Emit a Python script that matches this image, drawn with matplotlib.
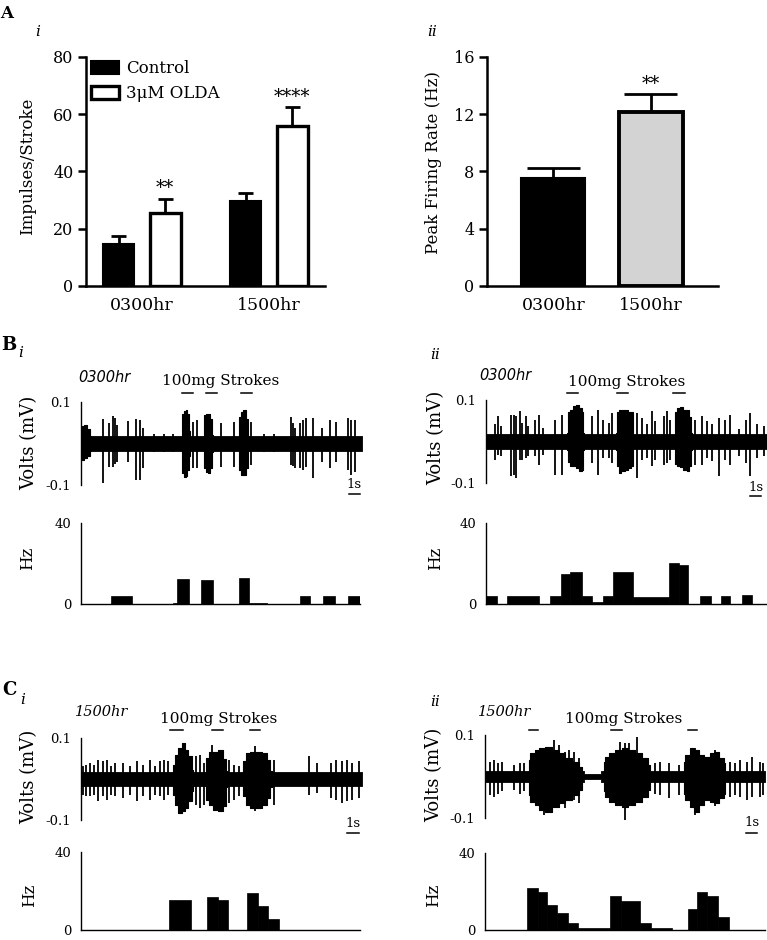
import matplotlib
matplotlib.use('Agg')
import matplotlib.pyplot as plt
import numpy as np

plt.rcParams['font.family'] = ['DejaVu Serif']

# ---------------- Panel A data ----------------
groups = ['0300hr', '1500hr']
control_mean = [14.7, 29.6]
control_sem = [2.8, 3.0]
olda_mean = [25.5, 55.8]
olda_sem = [5.0, 6.6]
olda_sig = ['**', '****']

peak_groups = ['0300hr', '1500hr']
peak_mean = [7.55, 12.15]
peak_sem = [0.7, 1.25]
peak_sig = ['', '**']

# ---------------- Panel B i (0300hr, control) ----------------
bi_band_t = [0, 25]
bi_band_hw = [0.017, 0.017]
bi_burst_t = [[0.0, 0.1, 0.4, 0.7, 0.85],
              [8.95, 9.05, 9.2, 9.4, 9.55, 9.7],
              [10.9, 11.0, 11.2, 11.4, 11.6, 11.75],
              [14.05, 14.15, 14.35, 14.55, 14.75, 14.9]]
bi_burst_up = [[0.04, 0.042, 0.045, 0.035, 0.017],
               [0.02, 0.07, 0.078, 0.081, 0.07, 0.03],
               [0.02, 0.068, 0.072, 0.07, 0.06, 0.02],
               [0.02, 0.065, 0.075, 0.081, 0.06, 0.02]]
bi_burst_down = [[-0.03, -0.04, -0.035, -0.03, -0.017],
                 [-0.02, -0.07, -0.08, -0.078, -0.065, -0.03],
                 [-0.02, -0.06, -0.068, -0.07, -0.06, -0.02],
                 [-0.02, -0.065, -0.075, -0.076, -0.06, -0.02]]
bi_spike_t = [1.96, 2.46, 2.85, 3.05, 3.2, 4.18, 4.92, 5.22, 5.52, 6.5, 7.4, 8.2,
              9.96, 10.35, 12.48, 13.61, 15.15, 16.3, 17.2, 18.71, 18.85, 19.0,
              19.45, 19.75, 20.05, 20.64, 21.4, 22.12, 22.72, 23.75, 24.05, 24.35]
bi_spike_up = [0.059, 0.049, 0.067, 0.062, 0.045, 0.054, 0.059, 0.057, 0.037, 0.024, 0.022, 0.024,
               0.053, 0.057, 0.049, 0.053, 0.053, 0.022, 0.024, 0.065, 0.050, 0.037,
               0.049, 0.057, 0.061, 0.061, 0.037, 0.057, 0.053, 0.061, 0.057, 0.057]
bi_spike_down = [-0.096, -0.056, -0.056, -0.050, -0.045, -0.044, -0.088, -0.088, -0.060, -0.020, -0.020, -0.020,
                 -0.060, -0.060, -0.056, -0.056, -0.052, -0.020, -0.020, -0.052, -0.055, -0.060,
                 -0.060, -0.064, -0.056, -0.084, -0.044, -0.060, -0.044, -0.064, -0.076, -0.068]
bi_stim_start = [9.0, 11.1, 14.2]
bi_stim_end = [10.0, 12.1, 15.2]
bi_bin_start = [2.7, 8.2, 8.6, 10.75, 14.2, 15.05, 19.6, 21.7, 23.9]
bi_bin_end = [4.6, 8.6, 9.7, 11.8, 15.05, 16.7, 20.5, 22.8, 25.0]
bi_rate = [4.0, 0.6, 12.3, 12.0, 13.0, 0.6, 4.0, 4.0, 4.0]

# ---------------- Panel B ii (0300hr, OLDA) ----------------
bii_band_t = [0, 25]
bii_band_hw = [0.017, 0.017]
bii_burst_t = [[7.25, 7.35, 7.6, 7.9, 8.1, 8.4, 8.6, 8.7],
               [11.6, 11.7, 11.9, 12.2, 12.5, 12.8, 13.0, 13.1],
               [16.8, 16.9, 17.1, 17.4, 17.7, 18.0, 18.2, 18.3]]
bii_burst_up = [[0.02, 0.07, 0.077, 0.085, 0.089, 0.08, 0.07, 0.02],
                [0.02, 0.07, 0.077, 0.075, 0.076, 0.072, 0.07, 0.02],
                [0.02, 0.07, 0.08, 0.083, 0.077, 0.075, 0.06, 0.02]]
bii_burst_down = [[-0.02, -0.05, -0.058, -0.06, -0.065, -0.07, -0.068, -0.02],
                  [-0.02, -0.06, -0.075, -0.072, -0.068, -0.065, -0.06, -0.02],
                  [-0.02, -0.055, -0.06, -0.062, -0.068, -0.07, -0.06, -0.02]]
bii_spike_t = [0.77, 1.07, 1.37, 2.26, 2.47, 2.71, 3.0, 3.24, 3.54, 3.75, 4.35, 4.7, 5.09,
               6.13, 6.73, 9.4, 10.0, 10.45, 10.9, 11.2, 13.42, 13.87, 14.32, 14.76, 15.06,
               15.8, 16.1, 16.4, 18.63, 19.2, 19.64, 20.1, 20.7, 21.3, 21.75, 22.5, 23.1,
               23.5, 24.1, 24.7]
bii_spike_up = [0.041, 0.061, 0.037, 0.065, 0.065, 0.061, 0.073, 0.045, 0.061, 0.037, 0.053, 0.065, 0.033,
                0.053, 0.065, 0.061, 0.077, 0.053, 0.045, 0.069, 0.069, 0.057, 0.041, 0.073, 0.049,
                0.061, 0.073, 0.053, 0.053, 0.061, 0.049, 0.041, 0.057, 0.053, 0.065, 0.029, 0.053,
                0.069, 0.041, 0.037]
bii_spike_down = [-0.044, -0.032, -0.036, -0.084, -0.080, -0.088, -0.044, -0.044, -0.040, -0.036, -0.036, -0.056, -0.032,
                  -0.080, -0.080, -0.052, -0.080, -0.040, -0.040, -0.052, -0.088, -0.044, -0.040, -0.060, -0.044,
                  -0.056, -0.052, -0.044, -0.056, -0.056, -0.040, -0.048, -0.084, -0.044, -0.056, -0.036, -0.052,
                  -0.084, -0.040, -0.036]
bii_stim_start = [7.2, 11.65, 16.6]
bii_stim_end = [8.2, 12.6, 17.7]
bii_bin_start = [0.0, 1.9, 5.7, 6.7, 7.5, 8.5, 9.4, 10.4, 11.3, 13.1, 16.3, 17.2, 19.0, 20.9, 22.8]
bii_bin_end = [1.0, 4.7, 6.7, 7.5, 8.5, 9.4, 10.4, 11.3, 13.1, 16.3, 17.2, 18.0, 20.0, 21.7, 23.7]
bii_rate = [4.0, 4.0, 4.0, 14.6, 15.6, 4.0, 1.0, 4.0, 15.6, 3.6, 20.2, 19.5, 4.0, 4.0, 4.6]

# ---------------- Panel C i (1500hr, control) ----------------
ci_band_t = [0, 25]
ci_band_hw = [0.017, 0.017]
ci_burst_t = [[8.2, 8.5, 8.8, 9.1, 9.4, 9.7, 10.0],
              [11.1, 11.2, 11.5, 11.9, 12.4, 12.8, 13.0],
              [14.4, 14.5, 14.8, 15.2, 15.8, 16.4, 16.7, 16.95]]
ci_burst_up = [[0.035, 0.059, 0.076, 0.088, 0.071, 0.055, 0.023],
               [0.02, 0.051, 0.067, 0.067, 0.071, 0.05, 0.02],
               [0.02, 0.043, 0.063, 0.067, 0.067, 0.063, 0.047, 0.02]]
ci_burst_down = [[-0.038, -0.063, -0.083, -0.079, -0.071, -0.054, -0.03],
                 [-0.02, -0.05, -0.063, -0.075, -0.079, -0.067, -0.02],
                 [-0.02, -0.042, -0.063, -0.071, -0.071, -0.063, -0.046, -0.02]]
ci_spike_t = [0.18, 0.48, 0.77, 1.16, 1.52, 1.96, 2.35, 2.71, 3.0, 3.75, 4.35, 4.94, 5.54, 6.13,
              6.58, 7.02, 7.41, 7.77, 10.21, 10.6, 10.98, 11.64, 13.13, 13.57, 14.02, 15.5,
              17.14, 20.3, 21.0, 22.2, 22.65, 23.24, 23.7, 24.1, 24.7]
ci_spike_up = [0.031, 0.035, 0.039, 0.035, 0.047, 0.043, 0.047, 0.031, 0.039, 0.039, 0.031, 0.043, 0.035, 0.047,
               0.031, 0.043, 0.047, 0.043, 0.055, 0.059, 0.039, 0.084, 0.047, 0.035, 0.031, 0.081,
               0.047, 0.055, 0.039, 0.039, 0.047, 0.043, 0.047, 0.039, 0.043]
ci_spike_down = [-0.038, -0.042, -0.042, -0.038, -0.054, -0.042, -0.050, -0.038, -0.042, -0.046, -0.038, -0.054, -0.042, -0.050,
                 -0.038, -0.042, -0.050, -0.038, -0.063, -0.071, -0.063, -0.060, -0.059, -0.050, -0.042, -0.079,
                 -0.063, -0.038, -0.035, -0.046, -0.050, -0.059, -0.054, -0.050, -0.046]
ci_stim_start = [7.9, 11.65, 15.0]
ci_stim_end = [9.1, 12.6, 15.9]
ci_bin_start = [7.9, 11.3, 12.3, 14.9, 15.9, 16.8]
ci_bin_end = [9.9, 12.3, 13.2, 15.9, 16.8, 17.7]
ci_rate = [15.3, 16.8, 15.3, 18.8, 12.3, 5.4]

# ---------------- Panel C ii (1500hr, OLDA) ----------------
cii_band_t = [0, 8.8, 8.8, 10.4, 10.4, 25]
cii_band_hw = [0.014, 0.014, 0.007, 0.007, 0.014, 0.014]
cii_burst_t = [[3.9, 4.2, 4.64, 5.09, 5.68, 6.28, 6.87, 7.47, 8.07, 8.66],
               [10.6, 10.9, 11.3, 11.9, 12.5, 13.1, 13.7, 14.3, 14.76],
               [17.74, 18.04, 18.48, 18.93, 19.37, 19.82, 20.27, 20.71, 21.16, 21.46]]
cii_burst_up = [[0.040, 0.056, 0.064, 0.068, 0.072, 0.064, 0.056, 0.044, 0.036, 0.024],
                [0.035, 0.048, 0.056, 0.064, 0.068, 0.064, 0.056, 0.044, 0.028],
                [0.036, 0.051, 0.068, 0.064, 0.051, 0.048, 0.056, 0.060, 0.044, 0.032]]
cii_burst_down = [[-0.045, -0.061, -0.069, -0.081, -0.085, -0.073, -0.065, -0.057, -0.045, -0.033],
                  [-0.036, -0.049, -0.061, -0.069, -0.073, -0.069, -0.061, -0.049, -0.033],
                  [-0.041, -0.057, -0.073, -0.085, -0.069, -0.057, -0.061, -0.065, -0.053, -0.041]]
cii_spike_t = [0.48, 0.77, 1.16, 1.52, 2.56, 3.15, 3.45, 5.24, 6.13, 6.58, 7.17, 7.47, 7.92, 8.36,
               12.08, 12.5, 12.83, 13.57, 15.2, 15.65, 16.4, 17.3, 18.78, 20.57, 21.9, 22.35,
               22.8, 23.4, 23.84, 24.58, 24.85]
cii_spike_up = [0.036, 0.040, 0.032, 0.036, 0.028, 0.032, 0.032, 0.060, 0.088, 0.076, 0.060, 0.064, 0.060, 0.044,
                0.084, 0.080, 0.080, 0.096, 0.032, 0.036, 0.032, 0.028, 0.068, 0.064, 0.036, 0.032,
                0.040, 0.036, 0.048, 0.036, 0.032]
cii_spike_down = [-0.045, -0.049, -0.041, -0.036, -0.0325, -0.041, -0.036, -0.093, -0.070, -0.065, -0.077, -0.060, -0.057, -0.065,
                  -0.070, -0.105, -0.070, -0.065, -0.041, -0.045, -0.053, -0.045, -0.093, -0.070, -0.049, -0.045,
                  -0.049, -0.057, -0.049, -0.049, -0.045]
cii_stim_start = [3.9, 11.25, 18.1]
cii_stim_end = [4.7, 12.2, 18.9]
cii_bin_start = [3.75, 4.7, 5.5, 6.4, 7.4, 8.3, 11.2, 12.1, 13.8, 14.8, 18.1, 18.9, 19.8, 20.8]
cii_bin_end = [4.7, 5.5, 6.4, 7.4, 8.3, 11.2, 12.1, 13.8, 14.8, 16.7, 18.9, 19.8, 20.8, 21.8]
cii_rate = [21.7, 19.6, 13.1, 9.0, 3.8, 0.8, 17.6, 15.2, 3.8, 0.8, 10.9, 19.6, 17.5, 6.5]

trace_yticks = [-0.1, 0.1]
trace_yticklabels = ['-0.1', '0.1']
hist_yticks = [0, 40]
scale_len = 1.0
t_range = (0, 25)

# ---------------- Figure ----------------
W, H = 767, 940
fig = plt.figure(figsize=(W / 100, H / 100), dpi=100)


def ax_px(x0, x1, y0, y1):
    return fig.add_axes([x0 / W, 1 - y1 / H, (x1 - x0) / W, (y1 - y0) / H])


def ftext(x, y, s, **kw):
    kw.setdefault('ha', 'center')
    kw.setdefault('va', 'center')
    fig.text(x / W, 1 - y / H, s, **kw)


# ---- A i ----
ax = ax_px(86, 325, 57, 286)
xg = np.arange(len(groups))
bw, off = 0.244, 0.183
b1 = ax.bar(xg - off, control_mean, bw, color='black', edgecolor='black', linewidth=1.5,
            label='Control', zorder=2)
b2 = ax.bar(xg + off, olda_mean, bw, color='white', edgecolor='black', linewidth=2.4,
            label='3μM OLDA', zorder=2)
for xs, m, s in ((xg - off, control_mean, control_sem), (xg + off, olda_mean, olda_sem)):
    m = np.array(m); s = np.array(s)
    ax.vlines(xs, m, m + s, color='black', lw=2.0, zorder=1)
    ax.hlines(m + s, xs - 0.06, xs + 0.06, color='black', lw=2.0, zorder=1)
for xi, m, s, lab in zip(xg + off, olda_mean, olda_sem, olda_sig):
    ax.text(xi, m + s + 0.5, lab, ha='center', va='bottom', fontsize=13)
ax.set_xlim(-0.44, 1.44)
ax.set_ylim(0, 80)
ax.set_yticks([0, 20, 40, 60, 80])
ax.set_xticks(xg)
ax.set_xticklabels(groups)
for sp in ('top', 'right'):
    ax.spines[sp].set_visible(False)
for sp in ('left', 'bottom'):
    ax.spines[sp].set_linewidth(1.8)
ax.tick_params(axis='y', length=6, width=1.8, labelsize=11.5, pad=3)
ax.tick_params(axis='x', length=0, labelsize=12.5, pad=8)
ax.legend(handles=[b1, b2], loc='upper left', bbox_to_anchor=(0.02, 0.985), frameon=False,
          fontsize=12, handlelength=1.7, handleheight=0.8, handletextpad=0.4,
          labelspacing=0.45, borderaxespad=0, borderpad=0)
ftext(28, 166, 'Impulses/Stroke', rotation=90, fontsize=12)

# ---- A ii ----
ax = ax_px(487, 718, 57, 286)
xp = np.arange(len(peak_groups))
ax.bar(xp, peak_mean, 0.656, color=['black', '#d3d3d3'], edgecolor='black',
       linewidth=[1.5, 2.8], zorder=2)
pm = np.array(peak_mean); ps = np.array(peak_sem)
ax.vlines(xp, pm, pm + ps, color='black', lw=2.0, zorder=1)
ax.hlines(pm + ps, xp - 0.27, xp + 0.27, color='black', lw=2.0, zorder=1)
for xi, m, s, lab in zip(xp, peak_mean, peak_sem, peak_sig):
    if lab:
        ax.text(xi, m + s + 0.1, lab, ha='center', va='bottom', fontsize=13)
ax.set_xlim(-0.68, 1.69)
ax.set_ylim(0, 16)
ax.set_yticks([0, 4, 8, 12, 16])
ax.set_xticks(xp)
ax.set_xticklabels(peak_groups)
for sp in ('top', 'right'):
    ax.spines[sp].set_visible(False)
for sp in ('left', 'bottom'):
    ax.spines[sp].set_linewidth(1.8)
ax.tick_params(axis='y', length=6, width=1.8, labelsize=11.5, pad=3)
ax.tick_params(axis='x', length=0, labelsize=12.5, pad=8)
ftext(434, 163, 'Peak Firing Rate (Hz)', rotation=90, fontsize=12)


# ---- traces ----
def draw_trace(box, band_t, band_hw, burst_t, burst_up, burst_down,
               sp_t, sp_up, sp_down, stim_s, stim_e, stim_y, scale_x0, scale_y, text_y):
    assert len(sp_t) == len(sp_up) == len(sp_down)
    ax = ax_px(*box)
    ax.set_xlim(*t_range)
    ax.set_ylim(-0.1, 0.1)
    hw = np.array(band_hw)
    ax.fill_between(band_t, -hw, hw, color='black', lw=0.6)
    for bt, bu, bd in zip(burst_t, burst_up, burst_down):
        ax.fill_between(bt, bd, bu, color='black', lw=0.8, step='mid')
    ax.vlines(sp_t, sp_down, sp_up, color='black', lw=1.3, clip_on=False)
    tr = ax.get_xaxis_transform()
    for s, e in zip(stim_s, stim_e):
        ax.plot([s, e], [stim_y, stim_y], color='black', lw=1.1, transform=tr, clip_on=False)
    ax.plot([scale_x0, scale_x0 + scale_len], [scale_y, scale_y], color='black', lw=1.1,
            transform=tr, clip_on=False)
    ax.text(scale_x0 + scale_len / 2, text_y, '1s', transform=tr, ha='center', va='center',
            fontsize=9.5)
    for sp in ('top', 'right', 'bottom'):
        ax.spines[sp].set_visible(False)
    ax.spines['left'].set_linewidth(1.0)
    ax.set_xticks([])
    ax.set_yticks(trace_yticks)
    ax.set_yticklabels(trace_yticklabels)
    ax.tick_params(axis='y', length=0, labelsize=9.5, pad=7)
    return ax


def draw_hist(box, starts, ends, rates):
    ax = ax_px(*box)
    st = np.array(starts); en = np.array(ends)
    ax.bar(st, rates, en - st, align='edge', color='black', edgecolor='black', lw=0.5)
    ax.set_xlim(*t_range)
    ax.set_ylim(0, 40)
    for sp in ('top', 'right'):
        ax.spines[sp].set_visible(False)
    ax.spines['left'].set_linewidth(1.0)
    ax.spines['bottom'].set_linewidth(1.0)
    ax.set_xticks([])
    ax.set_yticks(hist_yticks)
    ax.tick_params(axis='y', length=0, labelsize=9.5, pad=7)
    return ax


draw_trace((81, 362, 402, 485), bi_band_t, bi_band_hw, bi_burst_t, bi_burst_up, bi_burst_down,
           bi_spike_t, bi_spike_up, bi_spike_down, bi_stim_start, bi_stim_end, 1.108,
           23.8, -0.11, 0.0)
draw_hist((81, 360, 523, 604), bi_bin_start, bi_bin_end, bi_rate)

draw_trace((486, 767, 400, 483), bii_band_t, bii_band_hw, bii_burst_t, bii_burst_up, bii_burst_down,
           bii_spike_t, bii_spike_up, bii_spike_down, bii_stim_start, bii_stim_end, 1.084,
           23.5, -0.16, -0.05)
draw_hist((486, 767, 523, 604), bii_bin_start, bii_bin_end, bii_rate)

draw_trace((81, 362, 738, 820), ci_band_t, ci_band_hw, ci_burst_t, ci_burst_up, ci_burst_down,
           ci_spike_t, ci_spike_up, ci_spike_down, ci_stim_start, ci_stim_end, 1.098,
           23.7, -0.16, -0.04)
draw_hist((81, 360, 852, 930), ci_bin_start, ci_bin_end, ci_rate)

draw_trace((485, 765, 735, 818), cii_band_t, cii_band_hw, cii_burst_t, cii_burst_up, cii_burst_down,
           cii_spike_t, cii_spike_up, cii_spike_down, cii_stim_start, cii_stim_end, 1.06,
           23.3, -0.18, -0.06)
draw_hist((485, 765, 853, 930), cii_bin_start, cii_bin_end, cii_rate)

# ---- y labels for traces / hists ----
for x, y in ((29, 443), (436, 438), (29, 777), (434, 775)):
    ftext(x, y, 'Volts (mV)', rotation=90, fontsize=13)
for x, y in ((28, 558), (436, 558), (30, 895), (434, 895)):
    ftext(x, y, 'Hz', rotation=90, fontsize=12)

# ---- panel letters / sub labels ----
ftext(7, 13, 'A', fontsize=12, fontweight='bold')
ftext(38, 32, 'i', fontsize=11, style='italic')
ftext(432, 32, 'ii', fontsize=11, style='italic')
ftext(9, 345, 'B', fontsize=13, fontweight='bold')
ftext(21, 353, 'i', fontsize=11, style='italic')
ftext(435, 355, 'ii', fontsize=11, style='italic')
ftext(9, 690, 'C', fontsize=13, fontweight='bold')
ftext(23, 700, 'i', fontsize=11, style='italic')
ftext(435, 702, 'ii', fontsize=11, style='italic')

# ---- time-of-day and stimulus labels ----
ftext(104, 377, '0300hr', fontsize=10.5, style='italic', family='DejaVu Sans')
ftext(505, 376, '0300hr', fontsize=10.5, style='italic', family='DejaVu Sans')
ftext(102, 712, '1500hr', fontsize=10.5, style='italic')
ftext(505, 712, '1500hr', fontsize=10.5, style='italic')
ftext(162, 381, '100mg Strokes', fontsize=11, ha='left')
ftext(568, 382, '100mg Strokes', fontsize=11, ha='left')
ftext(160, 719, '100mg Strokes', fontsize=11, ha='left')
ftext(565, 719, '100mg Strokes', fontsize=11, ha='left')

fig.savefig('out.png', dpi=100)
